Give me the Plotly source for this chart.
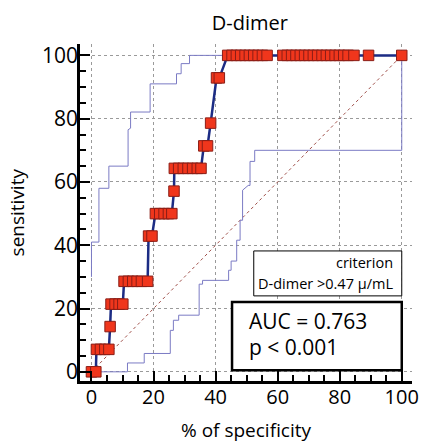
import plotly.graph_objects as go

# ROC curve points: 100 - specificity (%) and sensitivity (%)
roc_fpr = [0, 1.4,
           1.6, 2.9, 4.3, 5.6,
           6.0,
           6.3, 7.6, 8.9, 10.1,
           10.5, 11.9, 13.3, 14.7, 16.1, 18.1,
           18.4, 19.5,
           20.6, 22.0, 23.4, 24.8, 25.9,
           26.6,
           26.7, 28.1, 29.6, 31.1, 32.6, 34.1, 35.3,
           36.2, 37.4,
           38.4,
           40.3, 41.2,
           43.9, 45.3, 46.7, 48.1, 49.5, 50.9, 52.3, 53.7, 55.1, 56.6,
           61.7, 63.1, 64.5, 65.9, 67.3, 68.7, 70.1, 71.5, 72.9, 74.3,
           75.7, 77.1, 78.5, 79.9, 81.3, 82.7, 84.6,
           89.3, 100]
roc_sens = [0, 0,
            7.1, 7.1, 7.1, 7.1,
            14.3,
            21.4, 21.4, 21.4, 21.4,
            28.6, 28.6, 28.6, 28.6, 28.6, 28.6,
            42.9, 42.9,
            50.0, 50.0, 50.0, 50.0, 50.0,
            57.1,
            64.3, 64.3, 64.3, 64.3, 64.3, 64.3, 64.3,
            71.4, 71.4,
            78.6,
            92.9, 92.9,
            100, 100, 100, 100, 100, 100, 100, 100, 100, 100,
            100, 100, 100, 100, 100, 100, 100, 100, 100, 100,
            100, 100, 100, 100, 100, 100, 100,
            100, 100]

# 95% confidence bounds (step lines)
upper_fpr = [0, 0, 2.4, 2.4, 5.6, 5.6, 11.8, 11.8, 12.6, 12.6, 18.9, 18.9,
             27.4, 27.4, 28.9, 28.9, 31.6, 31.6, 100]
upper_sens = [30.0, 41.0, 41.0, 58.0, 58.0, 65.0, 65.0, 76.5, 77.0, 82.1, 82.1, 91.0,
              91.0, 94.2, 94.2, 97.4, 97.4, 100, 100]

lower_fpr = [0, 11.6, 11.6, 17.0, 17.0, 25.4, 25.4, 26.4, 26.4, 28.1, 28.1, 34.7,
             34.7, 35.8, 35.8, 44.2, 44.2, 45.0, 45.0, 46.8, 46.8, 47.9, 47.9,
             48.7, 48.7, 50.5, 51.1, 51.1, 52.6, 52.6, 100, 100]
lower_sens = [0, 0, 2.8, 2.8, 5.8, 5.8, 13.1, 13.1, 16.3, 16.3, 17.9, 17.9,
              27.7, 27.7, 28.9, 28.9, 32.1, 32.1, 35.0, 35.0, 41.6, 41.6, 47.9,
              47.9, 57.4, 58.9, 58.9, 66.5, 66.5, 70.0, 70.0, 100]

diag = [0, 100]
tick_vals = [0, 20, 40, 60, 80, 100]

criterion_lines = ["criterion", "D-dimer >0.47 μ/mL"]
auc_lines = ["AUC = 0.763", "p < 0.001"]

FONT = "Open Sans"

fig = go.Figure()

fig.add_trace(go.Scatter(x=diag, y=diag, mode="lines",
                         line=dict(color="#a0504a", width=1, dash="dot"),
                         hoverinfo="skip"))
fig.add_trace(go.Scatter(x=upper_fpr, y=upper_sens, mode="lines",
                         line=dict(color="#7b7bc4", width=1), hoverinfo="skip"))
fig.add_trace(go.Scatter(x=lower_fpr, y=lower_sens, mode="lines",
                         line=dict(color="#7b7bc4", width=1), hoverinfo="skip"))
fig.add_trace(go.Scatter(x=roc_fpr, y=roc_sens, mode="lines+markers",
                         line=dict(color="#1c2c84", width=2.5),
                         marker=dict(symbol="square", size=10.5, color="#f0361c",
                                     line=dict(color="#8a1d16", width=1))))

axis_common = dict(
    showline=True, linecolor="black", linewidth=2.5,
    ticks="inside", ticklen=10, tickwidth=2, tickcolor="black",
    tickvals=tick_vals, showgrid=True, gridcolor="#9a9a9a", gridwidth=1,
    griddash="dot", zeroline=False, mirror=False,
    minor=dict(dtick=5, tick0=0, ticks="inside", ticklen=6, tickwidth=2,
               tickcolor="black", showgrid=False),
)

fig.update_layout(
    width=427, height=443,
    margin=dict(l=80, r=8, t=44, b=62),
    paper_bgcolor="white", plot_bgcolor="white",
    showlegend=False,
    font=dict(family=FONT, color="black"),
    title=dict(text="D-dimer", x=0.585, xanchor="center", y=1 - 23 / 443,
               yanchor="middle", font=dict(size=20, family=FONT)),
    xaxis=dict(range=[-3.7, 103.3], tickfont=dict(size=20),
               ticklabelstandoff=-4, **axis_common),
    yaxis=dict(range=[-2.9, 103.6], tickfont=dict(size=21),
               ticklabelstandoff=-5, **axis_common),
)

fig.add_annotation(text="sensitivity", xref="paper", yref="paper",
                   x=-0.19, y=0.5, xanchor="center", yanchor="middle",
                   textangle=-90, showarrow=False, font=dict(size=19))
fig.add_annotation(text="% of specificity", xref="paper", yref="paper",
                   x=0.5, y=-0.146, xanchor="center", yanchor="middle",
                   showarrow=False, font=dict(size=19))

# Criterion box
fig.add_shape(type="rect", x0=52.3, x1=100, y0=24.0, y1=38.2,
              line=dict(color="black", width=1), fillcolor="white", layer="above")
fig.add_annotation(text=criterion_lines[0], x=97.8, y=34.5, xanchor="right",
                   yanchor="middle", showarrow=False, font=dict(size=14.5))
fig.add_annotation(text=criterion_lines[1], x=97.8, y=27.9, xanchor="right",
                   yanchor="middle", showarrow=False, font=dict(size=14.5))

# AUC box
fig.add_shape(type="rect", x0=45.3, x1=100, y0=0.5, y1=22.1,
              line=dict(color="black", width=2.5), fillcolor="white", layer="above")
fig.add_annotation(text=auc_lines[0], x=50.0, y=16.1, xanchor="left",
                   yanchor="middle", showarrow=False, font=dict(size=21))
fig.add_annotation(text=auc_lines[1], x=50.0, y=7.9, xanchor="left",
                   yanchor="middle", showarrow=False, font=dict(size=21))

fig.write_html("out.html")
